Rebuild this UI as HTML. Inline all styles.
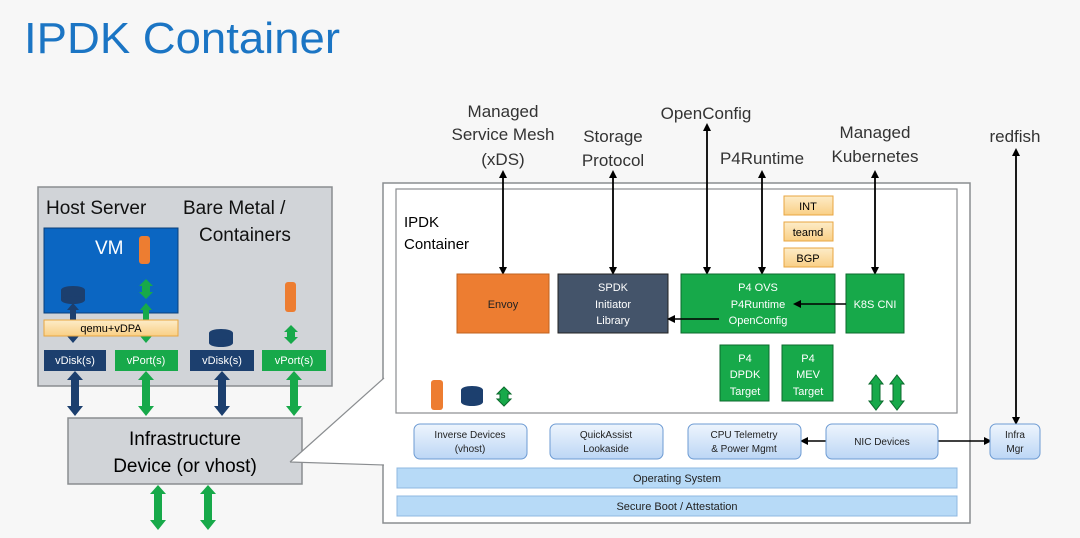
<!DOCTYPE html>
<html><head><meta charset="utf-8"><style>
body{margin:0;background:#f7f7f7;}
svg{display:block;font-family:"Liberation Sans",sans-serif;}
</style></head><body>
<svg width="1080" height="538" viewBox="0 0 1080 538" xmlns="http://www.w3.org/2000/svg">
<defs>
<marker id="ah" markerWidth="8" markerHeight="8" refX="6" refY="4" orient="auto-start-reverse" markerUnits="userSpaceOnUse"><path d="M0,0 L8,4 L0,8 z" fill="#000"/></marker>
<linearGradient id="rb" x1="0" y1="0" x2="0" y2="1"><stop offset="0" stop-color="#eef5fd"/><stop offset="1" stop-color="#bcd6f5"/></linearGradient>
<linearGradient id="ob" x1="0" y1="0" x2="0" y2="1"><stop offset="0" stop-color="#fdecc8"/><stop offset="1" stop-color="#f9cf85"/></linearGradient>
</defs>
<rect width="1080" height="538" fill="#f7f7f7"/>
<text x="24" y="53" font-size="44" fill="#1b75c4" textLength="316" lengthAdjust="spacingAndGlyphs">IPDK Container</text>

<!-- Left host box -->
<rect x="38" y="187" width="294" height="199" fill="#d1d4d8" stroke="#8a8d90" stroke-width="1.5"/>
<text x="46" y="214" font-size="19" fill="#111">Host Server</text>
<text x="183" y="214" font-size="19" fill="#111">Bare Metal /</text>
<text x="199" y="241" font-size="19" fill="#111">Containers</text>
<rect x="44" y="228" width="134" height="85" fill="#0b66c2" stroke="#0a3f7a"/>
<text x="95" y="254" font-size="19" fill="#fff">VM</text>
<rect x="139" y="236" width="11" height="28" rx="3" fill="#ed7d31"/>
<rect x="285" y="282" width="11" height="30" rx="3" fill="#ed7d31"/>
<ellipse cx="73" cy="290" rx="12" ry="4" fill="#1c3f6e"/><rect x="61" y="290" width="24" height="10" fill="#1c3f6e"/><ellipse cx="73" cy="300" rx="12" ry="4" fill="#1c3f6e"/>
<ellipse cx="221" cy="333" rx="12" ry="4" fill="#1c3f6e"/><rect x="209" y="333" width="24" height="10" fill="#1c3f6e"/><ellipse cx="221" cy="343" rx="12" ry="4" fill="#1c3f6e"/>
<g stroke-width="0">
<path d="M75,371 l8,9 h-4 v26 h4 l-8,10 l-8,-10 h4 v-26 h-4z" fill="#1c3f6e"/>
<path d="M146,371 l8,9 h-4 v26 h4 l-8,10 l-8,-10 h4 v-26 h-4z" fill="#17a94a" stroke="#0b6a2c"/>
<path d="M222,371 l8,9 h-4 v26 h4 l-8,10 l-8,-10 h4 v-26 h-4z" fill="#1c3f6e"/>
<path d="M294,371 l8,9 h-4 v26 h4 l-8,10 l-8,-10 h4 v-26 h-4z" fill="#17a94a" stroke="#0b6a2c"/>
<path d="M73,303 l6,7 h-3 v26 h3 l-6,7 l-6,-7 h3 v-26 h-3z" fill="#1c3f6e"/>
<path d="M146,279 l7,7 h-3 v6 h3 l-7,7 l-7,-7 h3 v-6 h-3z" fill="#17a94a" stroke="#0b6a2c"/>
<path d="M146,303 l6,7 h-3 v26 h3 l-6,7 l-6,-7 h3 v-26 h-3z" fill="#17a94a" stroke="#0b6a2c"/>
<path d="M291,325 l7,7 h-3 v5 h3 l-7,7 l-7,-7 h3 v-5 h-3z" fill="#17a94a" stroke="#0b6a2c"/>
<path d="M158,485 l8,9 h-4 v26 h4 l-8,10 l-8,-10 h4 v-26 h-4z" fill="#17a94a" stroke="#0b6a2c"/>
<path d="M208,485 l8,9 h-4 v26 h4 l-8,10 l-8,-10 h4 v-26 h-4z" fill="#17a94a" stroke="#0b6a2c"/>
</g>
<rect x="44" y="320" width="134" height="16" fill="url(#ob)" stroke="#e8a640"/>
<text x="111" y="332" font-size="11" text-anchor="middle">qemu+vDPA</text>
<g font-size="11" fill="#fff" text-anchor="middle">
<rect x="44" y="350" width="62" height="21" fill="#1c3f6e"/><text x="75" y="364">vDisk(s)</text>
<rect x="115" y="350" width="63" height="21" fill="#17a94a"/><text x="146" y="364">vPort(s)</text>
<rect x="190" y="350" width="64" height="21" fill="#1c3f6e"/><text x="222" y="364">vDisk(s)</text>
<rect x="262" y="350" width="64" height="21" fill="#17a94a"/><text x="294" y="364">vPort(s)</text>
</g>
<rect x="68" y="418" width="234" height="66" fill="#d1d4d8" stroke="#8a8d90" stroke-width="1.5"/>
<text x="185" y="445" font-size="19" text-anchor="middle">Infrastructure</text>
<text x="185" y="472" font-size="19" text-anchor="middle">Device (or vhost)</text>

<!-- Right outer -->
<rect x="383" y="183" width="587" height="340" fill="#fff" stroke="#8a8d90" stroke-width="1.5"/>
<path d="M290,462 L384,378 L384,465 Z" fill="#fff"/>
<path d="M290,462 L384,378 M290,462 L384,465" stroke="#8a8d90" stroke-width="1.2" fill="none"/>
<rect x="396" y="189" width="561" height="224" fill="#fff" stroke="#8a8d90" stroke-width="1.2"/>
<text x="404" y="227" font-size="15">IPDK</text>
<text x="404" y="249" font-size="15">Container</text>

<!-- top labels -->
<g font-size="17" fill="#333" text-anchor="middle">
<text x="503" y="117">Managed</text><text x="503" y="140">Service Mesh</text><text x="503" y="165">(xDS)</text>
<text x="613" y="142">Storage</text><text x="613" y="166">Protocol</text>
<text x="706" y="119">OpenConfig</text>
<text x="762" y="164">P4Runtime</text>
<text x="875" y="138">Managed</text><text x="875" y="162">Kubernetes</text>
<text x="1015" y="142">redfish</text>
</g>
<g stroke="#000" stroke-width="1.8" marker-start="url(#ah)" marker-end="url(#ah)">
<line x1="503" y1="172" x2="503" y2="273"/>
<line x1="613" y1="172" x2="613" y2="273"/>
<line x1="707" y1="125" x2="707" y2="273"/>
<line x1="762" y1="172" x2="762" y2="273"/>
<line x1="875" y1="172" x2="875" y2="273"/>
<line x1="1016" y1="150" x2="1016" y2="423"/>
</g>

<!-- boxes -->
<g font-size="11" text-anchor="middle">
<rect x="784" y="196" width="49" height="19" fill="url(#ob)" stroke="#e8a640"/><text x="808" y="210">INT</text>
<rect x="784" y="222" width="49" height="19" fill="url(#ob)" stroke="#e8a640"/><text x="808" y="236">teamd</text>
<rect x="784" y="248" width="49" height="19" fill="url(#ob)" stroke="#e8a640"/><text x="808" y="262">BGP</text>
<rect x="457" y="274" width="92" height="59" fill="#ed7d31" stroke="#c0621f"/><text x="503" y="308" fill="#222">Envoy</text>
<rect x="558" y="274" width="110" height="59" fill="#44546a" stroke="#222"/>
<g fill="#fff"><text x="613" y="291">SPDK</text><text x="613" y="308">Initiator</text><text x="613" y="324">Library</text></g>
<rect x="681" y="274" width="154" height="59" fill="#17a94a" stroke="#0b6a2c"/>
<g fill="#fff"><text x="758" y="291">P4 OVS</text><text x="758" y="308">P4Runtime</text><text x="758" y="324">OpenConfig</text></g>
<rect x="846" y="274" width="58" height="59" fill="#17a94a" stroke="#0b6a2c"/><text x="875" y="308" fill="#fff">K8S CNI</text>
<rect x="720" y="345" width="49" height="56" fill="#17a94a" stroke="#0b6a2c"/>
<g fill="#fff"><text x="745" y="362">P4</text><text x="745" y="378">DPDK</text><text x="745" y="395">Target</text></g>
<rect x="782" y="345" width="51" height="56" fill="#17a94a" stroke="#0b6a2c"/>
<g fill="#fff"><text x="808" y="362">P4</text><text x="808" y="378">MEV</text><text x="808" y="395">Target</text></g>
</g>
<g stroke="#000" stroke-width="1.6" marker-end="url(#ah)">
<line x1="846" y1="304" x2="795" y2="304"/>
<line x1="719" y1="319" x2="669" y2="319"/>
<line x1="826" y1="441" x2="802" y2="441"/>
</g>
<line x1="938" y1="441" x2="990" y2="441" stroke="#000" stroke-width="1.6" marker-end="url(#ah)"/>
<!-- icons bottom -->
<rect x="431" y="380" width="12" height="30" rx="3" fill="#ed7d31"/>
<ellipse cx="472" cy="390" rx="11" ry="4" fill="#1c3f6e"/><rect x="461" y="390" width="22" height="12" fill="#1c3f6e"/><ellipse cx="472" cy="402" rx="11" ry="4" fill="#1c3f6e"/>
<path d="M504,387 l7,7 h-3 v5 h3 l-7,7 l-7,-7 h3 v-5 h-3z" fill="#17a94a" stroke="#0b6a2c"/>
<path d="M876,375 l7,9 h-3 v17 h3 l-7,9 l-7,-9 h3 v-17 h-3z" fill="#17a94a" stroke="#0b6a2c"/>
<path d="M897,375 l7,9 h-3 v17 h3 l-7,9 l-7,-9 h3 v-17 h-3z" fill="#17a94a" stroke="#0b6a2c"/>

<g font-size="10" text-anchor="middle" fill="#222">
<rect x="414" y="424" width="113" height="35" rx="6" fill="url(#rb)" stroke="#6d9bd3"/><text x="470" y="438">Inverse Devices</text><text x="470" y="452">(vhost)</text>
<rect x="550" y="424" width="113" height="35" rx="6" fill="url(#rb)" stroke="#6d9bd3"/><text x="606" y="438">QuickAssist</text><text x="606" y="452">Lookaside</text>
<rect x="688" y="424" width="113" height="35" rx="6" fill="url(#rb)" stroke="#6d9bd3"/><text x="744" y="438">CPU Telemetry</text><text x="744" y="452">&amp; Power Mgmt</text>
<rect x="826" y="424" width="112" height="35" rx="6" fill="url(#rb)" stroke="#6d9bd3"/><text x="882" y="445">NIC Devices</text>
<rect x="990" y="424" width="50" height="35" rx="6" fill="url(#rb)" stroke="#6d9bd3"/><text x="1015" y="438">Infra</text><text x="1015" y="452">Mgr</text>
<rect x="397" y="468" width="560" height="20" fill="#b7daf7" stroke="#8fb8e0"/><text x="677" y="482" font-size="11">Operating System</text>
<rect x="397" y="496" width="560" height="20" fill="#b7daf7" stroke="#8fb8e0"/><text x="677" y="510" font-size="11">Secure Boot / Attestation</text>
</g>
</svg>
</body></html>
